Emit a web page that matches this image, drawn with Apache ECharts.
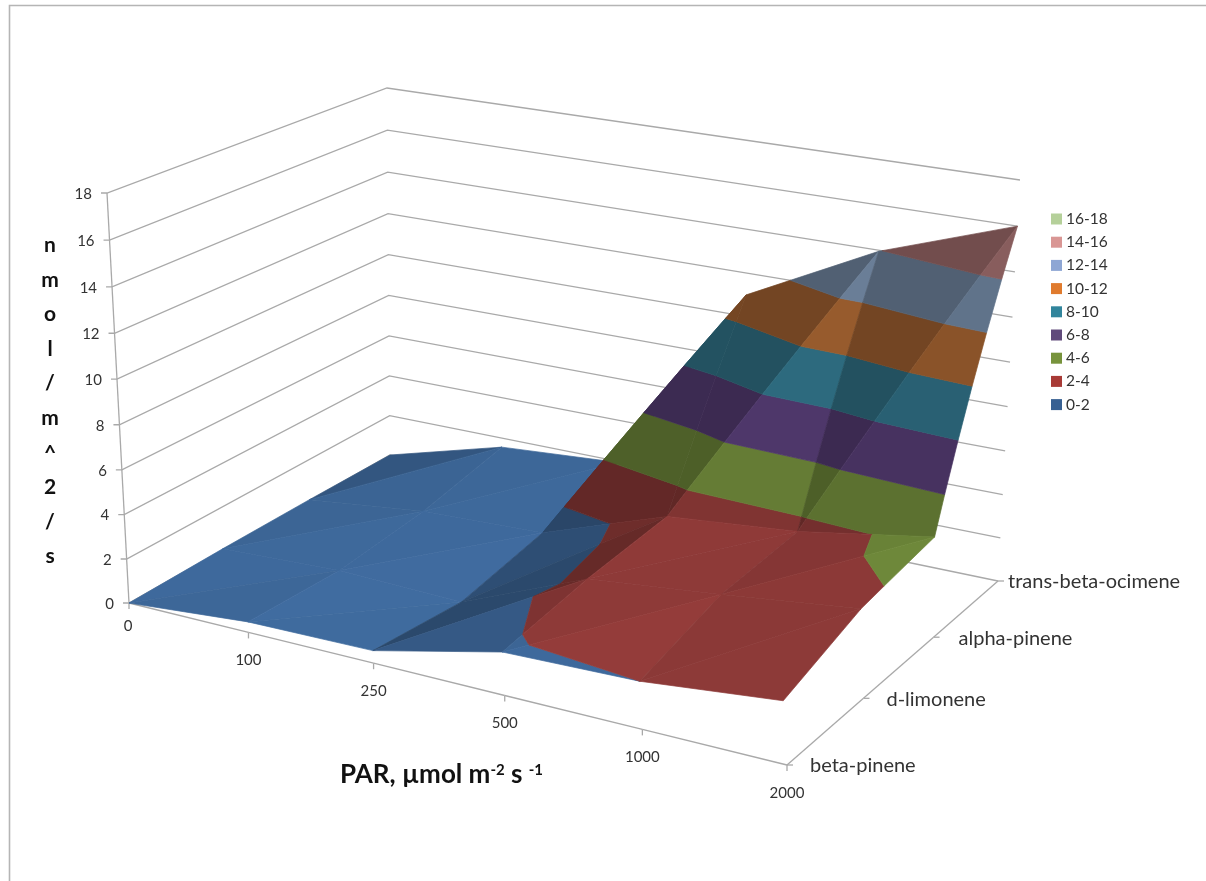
<!DOCTYPE html>
<html>
<head>
<meta charset="utf-8">
<style>html,body{margin:0;padding:0;background:#fff}#c{width:1206px;height:881px}</style>
<script src="https://cdn.jsdelivr.net/npm/echarts@6/dist/echarts.min.js"></script>
</head>
<body>
<div id="c"></div>
<script>
// ---- data ----
const parCategories = ['0','100','250','500','1000','2000'];
const compounds = ['beta-pinene','d-limonene','alpha-pinene','trans-beta-ocimene'];
const zTicks = [0,2,4,6,8,10,12,14,16,18];
const betaPinene       = [0,    0.47, 0.55, 1.85, 2.0,  2.6];
const dLimonene        = [0.05, 0.3,  0.15, 2.5,  3.1,  3.8];
const alphaPinene      = [0.05, 0.7,  0.9,  2.9,  3.45, 4.45];
const transBetaOcimene = [0,    1.55, 1.95, 11,   13.95,16];
const bandNames = ['0-2','2-4','4-6','6-8','8-10','10-12','12-14','14-16','16-18'];
const legendColors = ['#376092','#A83A36','#77933C','#604A7B','#31859C','#E07B2E','#8EA6D4','#D99694','#B5D09A'];
const faceColors = ['#406CA0','#983E3C','#78943F','#5D427E','#367E96','#B46C36','#7E96B4','#B27979','#C0D0A0'];

// ---- the 3D box as seen on the page: the scale of this chart ----
const floorQuad = [[129,603],[787,765],[998,581],[390,455]];   // (u,v) = 00,10,11,01
const topQuad   = [[107,193],[760,305],[1020,180],[387,88]];
const zMax = 18, zBend = 0.04;

function quadMap(q){
  const [p0,p1,p2,p3]=q;
  const dx1=p1[0]-p2[0],dx2=p3[0]-p2[0],sx=p0[0]-p1[0]+p2[0]-p3[0];
  const dy1=p1[1]-p2[1],dy2=p3[1]-p2[1],sy=p0[1]-p1[1]+p2[1]-p3[1];
  const d=dx1*dy2-dx2*dy1;
  const g=(sx*dy2-dx2*sy)/d,h=(dx1*sy-sx*dy1)/d;
  const a=p1[0]-p0[0]+g*p1[0],b=p3[0]-p0[0]+h*p3[0],c=p0[0];
  const e=p1[1]-p0[1]+g*p1[1],f=p3[1]-p0[1]+h*p3[1],k=p0[1];
  return (u,v)=>{const w=g*u+h*v+1;return [(a*u+b*v+c)/w,(e*u+f*v+k)/w];};
}
const floorMap=quadMap(floorQuad), topMap=quadMap(topQuad);
function project(col,row,z){
  const u=col/(parCategories.length-1), v=row/(compounds.length-1);
  const t0=z/zMax, t=t0/(1+zBend*(1-t0));
  const a=floorMap(u,v), b=topMap(u,v);
  return [a[0]+(b[0]-a[0])*t, a[1]+(b[1]-a[1])*t];
}

// ---- split the surface into triangles, then into value bands ----
const rows=[betaPinene,dLimonene,alphaPinene,transBetaOcimene];
function clip(poly,level,keepAbove){
  const out=[];
  for(let i=0;i<poly.length;i++){
    const A=poly[i],B=poly[(i+1)%poly.length];
    const ia=keepAbove?A[2]>=level:A[2]<=level, ib=keepAbove?B[2]>=level:B[2]<=level;
    if(ia) out.push(A);
    if(ia!==ib){
      const t=(level-A[2])/(B[2]-A[2]);
      out.push([A[0]+(B[0]-A[0])*t,A[1]+(B[1]-A[1])*t,level]);
    }
  }
  return out;
}
function shade(gx,gy){
  const g=Math.max(0,gx);
  return Math.max(0.64,1-0.01*Math.abs(gy)-0.1*Math.min(g,0.6)-0.15*Math.max(0,g-0.6));
}
function tint(hex,f){
  const n=parseInt(hex.slice(1),16);
  const ch=s=>Math.min(255,Math.round(((n>>s)&255)*f));
  return 'rgb('+ch(16)+','+ch(8)+','+ch(0)+')';
}
const pieces=bandNames.map(()=>[]);
let order=10;
function addTriangle(tri,gx,gy){
  order++;
  bandNames.forEach((name,b)=>{
    const lo=b*2, hi=lo+2;
    let p=clip(clip(tri,lo,true),hi,false);
    if(p.length<3) return;
    const zs=p.map(q=>q[2]);
    if(Math.max(...zs)-Math.min(...zs)<1e-6) return;
    pieces[b].push({poly:p,z2:order,fill:tint(faceColors[b],shade(gx,gy))});
  });
}
for(let j=rows.length-2;j>=0;j--){
  for(let i=0;i<parCategories.length-1;i++){
    const z00=rows[j][i],z10=rows[j][i+1],z01=rows[j+1][i],z11=rows[j+1][i+1];
    addTriangle([[i,j,z00],[i,j+1,z01],[i+1,j+1,z11]],z11-z01,z01-z00);
    addTriangle([[i,j,z00],[i+1,j,z10],[i+1,j+1,z11]],z10-z00,z11-z10);
  }
}

const lastCol=parCategories.length-1,lastRow=compounds.length-1;
const gridColor='#a9a9a9', labelColor='#333', uiFont='Lato';
const compoundLabelGap=[23,23,25,10];

function pts(api,list){return list.map(p=>api.coord(p));}
function lineEl(points){return {type:'polyline',shape:{points},z2:1,style:{fill:'none',stroke:gridColor,lineWidth:1.3}};}
function textEl(x,y,text,align,size){return {type:'text',z2:2,style:{x,y,text,fill:labelColor,font:(size||15)+'px '+uiFont,textAlign:align,textVerticalAlign:'middle'}};}

const series=[];
// value axis with its wall lines
series.push({type:'custom',coordinateSystem:'cartesian2d',silent:true,z:2,data:zTicks.map((t,i)=>[i,t]),
  renderItem(params,api){
    const t=zTicks[params.dataIndex];
    const a=project(0,0,t),b=project(0,lastRow,t),c=project(lastCol,lastRow,t);
    const [pa,pb,pc]=pts(api,[a,b,c]);
    return {type:'group',children:[
      lineEl([[pa[0]-6,pa[1]],pa,pb,pc]),
      textEl(pa[0]-15,pa[1]+1,String(t),'right')
    ]};
  }});
// corner upright of the value axis
series.push({type:'custom',coordinateSystem:'cartesian2d',silent:true,z:2,data:[[0,0]],
  renderItem(params,api){return lineEl(pts(api,[project(0,0,0),project(0,0,zMax)]));}});
// PAR axis
series.push({type:'custom',coordinateSystem:'cartesian2d',silent:true,z:2,data:parCategories.map((t,i)=>[i,0]),
  renderItem(params,api){
    const i=params.dataIndex;
    const p=api.coord(project(i,0,0));
    const kids=[lineEl([p,[p[0],p[1]+6]]),textEl(p[0]+(i===0?-1:0),p[1]+(i===0?23:28),parCategories[i],'center')];
    if(i<lastCol) kids.push(lineEl(pts(api,[project(i,0,0),project(i+1,0,0)])));
    return {type:'group',children:kids};
  }});
// compound axis
series.push({type:'custom',coordinateSystem:'cartesian2d',silent:true,z:2,data:compounds.map((t,i)=>[i,0]),
  renderItem(params,api){
    const j=params.dataIndex;
    const p=api.coord(project(lastCol,j,0));
    const kids=[lineEl([p,[p[0]+6,p[1]]]),textEl(p[0]+compoundLabelGap[j],p[1]+1,compounds[j],'left',20)];
    if(j<lastRow) kids.push(lineEl(pts(api,[project(lastCol,j,0),project(lastCol,j+1,0)])));
    return {type:'group',children:kids};
  }});
// surface bands
bandNames.forEach((name,b)=>{
  series.push({type:'custom',name,coordinateSystem:'cartesian2d',silent:true,z:2,
    itemStyle:{color:legendColors[b]},
    data:pieces[b].map((p,i)=>[i,0]),
    renderItem(params,api){
      const pc=pieces[b][params.dataIndex];
      return {type:'polygon',z2:pc.z2,
        shape:{points:pc.poly.map(q=>api.coord(project(q[0],q[1],q[2])))},
        style:{fill:pc.fill,stroke:pc.fill,lineWidth:0.7}};
    }});
});

const chart=echarts.init(document.getElementById('c'),null,{renderer:'canvas'});
chart.setOption({
  animation:false,
  backgroundColor:'#fff',
  grid:{left:0,right:0,top:0,bottom:0,containLabel:false},
  xAxis:{type:'value',min:0,max:1206,show:false},
  yAxis:{type:'value',min:0,max:881,inverse:true,show:false},
  title:[
    {text:'n\nm\no\nl\n/\nm\n^\n2\n/\ns',left:45,top:223,textAlign:'center',
     textStyle:{fontFamily:uiFont,fontWeight:'bold',fontSize:21,lineHeight:34.6,color:'#111'}},
    {text:'{a|PAR, µmol m}{s|-2}{a| s }{s|-1}',left:335,top:757,
     textStyle:{rich:{a:{fontFamily:uiFont,fontWeight:'bold',fontSize:26,color:'#111'},
                      s:{fontFamily:uiFont,fontWeight:'bold',fontSize:15,color:'#111',padding:[0,0,10,0]}}}}
  ],
  legend:{orient:'vertical',left:1051,top:211,padding:0,itemWidth:11,itemHeight:11,itemGap:7.2,selectedMode:false,
    icon:'rect',
    data:bandNames.slice().reverse(),
    textStyle:{fontFamily:uiFont,fontSize:15.5,color:labelColor,padding:[0,0,0,-1]}},
  graphic:[
    {type:'polyline',silent:true,shape:{points:[[9.5,881],[9.5,5.5],[1206,5.5]]},style:{fill:'none',stroke:'#b5b5b5',lineWidth:1.6}}
  ],
  series
});
</script>
</body>
</html>
